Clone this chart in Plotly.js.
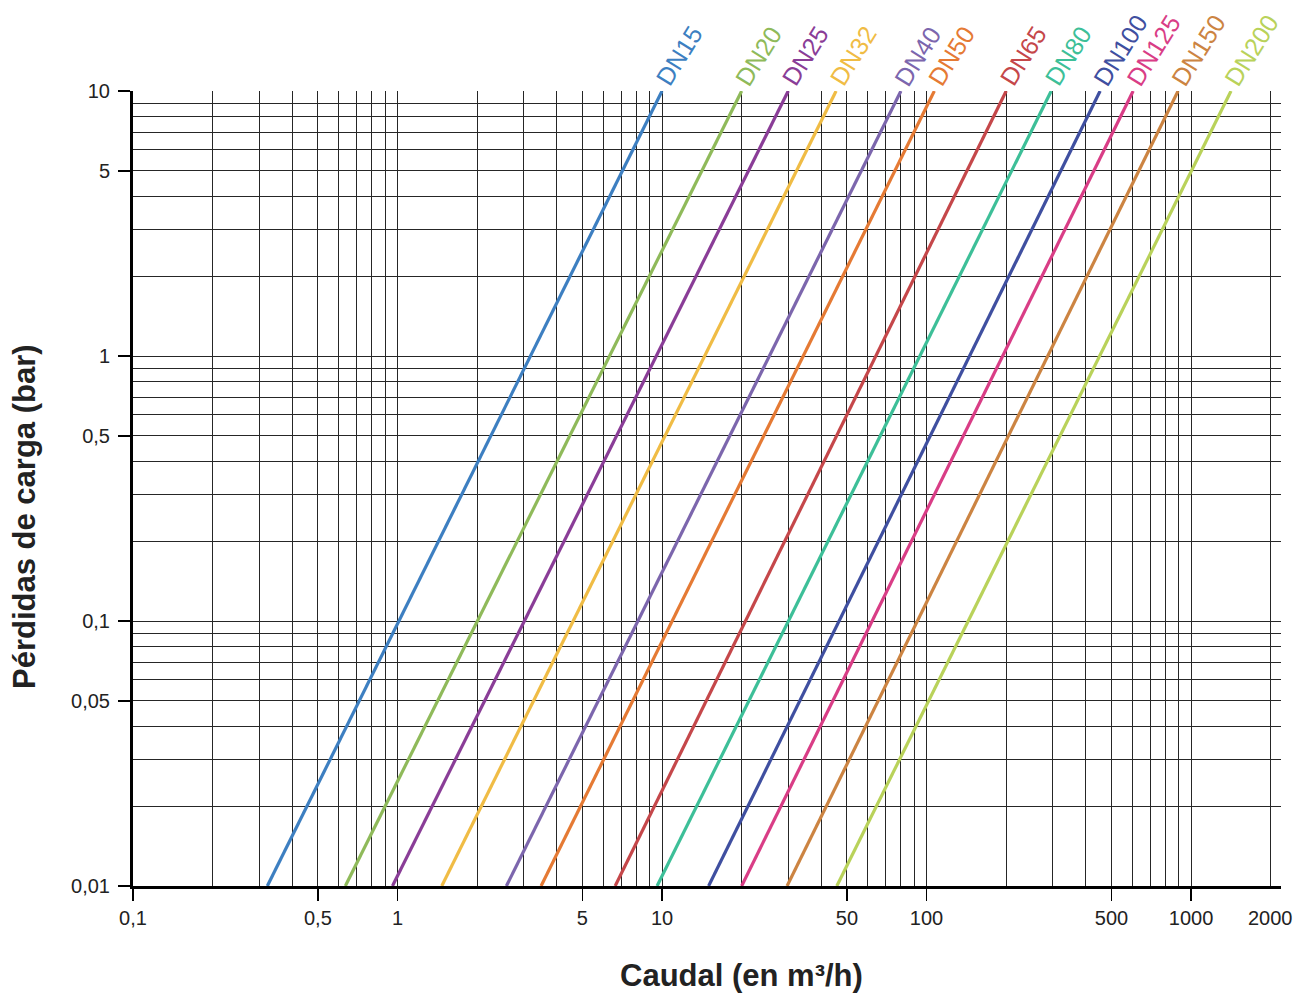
<!DOCTYPE html>
<html>
<head>
<meta charset="utf-8">
<script src="https://cdn.plot.ly/plotly-3.0.1.min.js"></script>
<style>html,body{margin:0;padding:0;background:#fff;}#chart{width:1303px;height:997px;}</style>
</head>
<body>
<div id="chart"></div>
<script>
// Series names and colours
const seriesNames = ['DN15','DN20','DN25','DN32','DN40','DN50','DN65','DN80','DN100','DN125','DN150','DN200'];
const seriesColors = ['#3d7fc1','#8fba5a','#8a3d97','#f0bc45','#7c66ad','#e57a34','#c5474a','#3dbf98','#3f4fa0','#d93d86','#cc8442','#b9d25a'];
// Flow (m3/h) where each line meets the pressure-loss limits
const dpLow = 0.01;
const dpHigh = 10;
const flowAtLow  = [0.322, 0.635, 0.957, 1.47, 2.58, 3.49, 6.65, 9.58, 15.0, 20.0, 29.7, 45.8];
const flowAtHigh = [10, 20, 30, 45.5, 80, 107, 200, 296, 453, 604, 893, 1416];
// Axis ticks
const xTickVals = [0.1, 0.5, 1, 5, 10, 50, 100, 500, 1000];
const xTickText = ['0,1','0,5','1','5','10','50','100','500','1000'];
const yTickVals = [0.01, 0.05, 0.1, 0.5, 1, 5, 10];
const yTickText = ['0,01','0,05','0,1','0,5','1','5','10'];
const xTitle = 'Caudal (en m³/h)';
const yTitle = 'Pérdidas de carga (bar)';

function logGrid(fromExp, toExp, maxVal) {
  const v = [];
  for (let e = fromExp; e <= toExp; e++) {
    for (let m = 1; m <= 9; m++) {
      const val = m * Math.pow(10, e);
      if (val <= maxVal * 1.0001) v.push(+val.toPrecision(6));
    }
  }
  return v;
}
const xGrid = logGrid(-1, 3, 2000);
const yGrid = logGrid(-2, 1, 10);

const FONT = 'Liberation Sans, Arial, sans-serif';

const traces = seriesNames.map((n, i) => ({
  type: 'scatter', mode: 'lines', name: n,
  x: [flowAtLow[i], flowAtHigh[i]], y: [dpLow, dpHigh],
  line: {color: seriesColors[i], width: 3.2},
  hoverinfo: 'skip'
}));

const annotations = seriesNames.map((n, i) => ({
  text: n, x: Math.log10(flowAtHigh[i]), y: Math.log10(dpHigh), xref: 'x', yref: 'y',
  showarrow: false, textangle: -58, xanchor: 'left', yanchor: 'bottom',
  xshift: -15, yshift: -2,
  font: {family: FONT, size: 25, color: seriesColors[i]}
}));
annotations.push({
  text: '2000', x: Math.log10(2000), y: 0, xref: 'x', yref: 'paper', yanchor: 'top',
  yshift: -19, showarrow: false,
  font: {family: FONT, size: 20, color: '#222'}
});
annotations.push({
  text: '<b>' + xTitle + '</b>', x: 741, y: 975, xref: 'paper', yref: 'paper',
  showarrow: false, xanchor: 'center', yanchor: 'middle',
  font: {family: FONT, size: 31, color: '#222'}
});
annotations.push({
  text: '<b>' + yTitle + '</b>', x: 24, y: 517, xref: 'paper', yref: 'paper',
  showarrow: false, xanchor: 'center', yanchor: 'middle', textangle: -90,
  font: {family: FONT, size: 31, color: '#222'}
});
// convert pixel positions of titles to paper fractions
const W = 1303, H = 997, M = {l: 133, r: 22, t: 91, b: 111};
const pw = W - M.l - M.r, ph = H - M.t - M.b;
annotations.slice(-2).forEach(a => {
  a.x = (a.x - M.l) / pw;
  a.y = (H - M.b - a.y) / ph;
});

const gridColor = '#262626';
const layout = {
  width: W, height: H,
  margin: M,
  paper_bgcolor: '#fff', plot_bgcolor: '#fff',
  showlegend: false,
  font: {family: FONT, color: '#222'},
  xaxis: {
    type: 'log', range: [-1, 3.34],
    tickmode: 'array', tickvals: xTickVals, ticktext: xTickText,
    ticks: 'outside', ticklen: 12, tickwidth: 1.5, tickcolor: '#000',
    showline: true, linewidth: 3, linecolor: '#000',
    showgrid: true, gridcolor: gridColor, gridwidth: 1,
    minor: {tickmode: 'array', tickvals: xGrid, showgrid: true, gridcolor: gridColor, gridwidth: 1, ticks: ''},
    tickfont: {size: 20, color: '#222'},
    zeroline: false
  },
  yaxis: {
    type: 'log', range: [-2, 1],
    tickmode: 'array', tickvals: yTickVals, ticktext: yTickText,
    ticks: 'outside', ticklen: 12, tickwidth: 1.5, tickcolor: '#000',
    showline: true, linewidth: 3, linecolor: '#000',
    showgrid: true, gridcolor: gridColor, gridwidth: 1,
    minor: {tickmode: 'array', tickvals: yGrid, showgrid: true, gridcolor: gridColor, gridwidth: 1, ticks: ''},
    tickfont: {size: 20, color: '#222'},
    ticklabelstandoff: 4,
    zeroline: false
  },
  annotations: annotations
};

Plotly.newPlot('chart', traces, layout, {staticPlot: true, displayModeBar: false});
</script>
</body>
</html>
